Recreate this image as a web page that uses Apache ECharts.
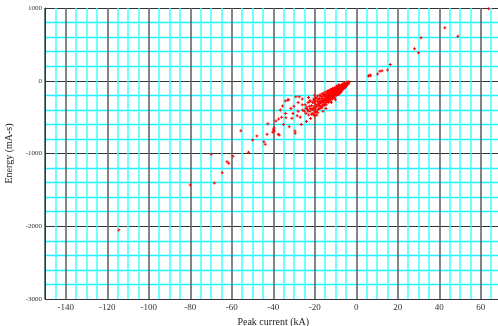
<!DOCTYPE html>
<html>
<head>
<meta charset="utf-8">
<script src="https://cdn.jsdelivr.net/npm/echarts@6/dist/echarts.min.js"></script>
<style>html,body{margin:0;padding:0;background:#fff;}#c{width:498px;height:326px;}</style>
</head>
<body>
<div id="c"></div>
<script>
// Peak current (kA), Energy (mA-s) pairs
const denseBand = [
[-3.5,-20],[-3.7,-34],[-3.9,-15],[-4.0,-46],[-4.2,-28],[-4.3,-55],[-4.5,-38],[-4.6,-20],[-4.7,-66],[-4.9,-48],[-5.0,-30],[-5.0,-78],
[-5.2,-60],[-5.3,-92],[-5.4,-42],[-5.5,-75],[-5.7,-55],[-5.8,-100],[-5.9,-35],[-6.0,-82],[-6.1,-64],[-6.2,-110],[-6.3,-48],[-6.4,-92],
[-6.6,-72],[-6.7,-120],[-6.8,-58],[-6.9,-98],[-7.0,-140],[-7.1,-80],[-7.2,-110],[-7.3,-62],[-7.4,-130],[-7.5,-92],[-7.6,-150],[-7.7,-75],[-7.8,-118],[-7.9,-100],[-8.0,-140],
[-8.1,-82],[-8.2,-160],[-8.3,-120],[-8.4,-98],[-8.5,-145],[-8.6,-70],[-8.7,-175],[-8.8,-130],[-8.9,-108],[-9.0,-155],[-9.1,-90],[-9.2,-185],[-9.3,-125],[-9.4,-142],[-9.5,-100],[-9.6,-168],[-9.7,-120],[-9.8,-195],[-9.9,-150],[-10.0,-105],
[-10.1,-172],[-10.2,-130],[-10.3,-205],[-10.4,-150],[-10.5,-112],[-10.6,-190],[-10.7,-160],[-10.8,-225],[-10.9,-138],[-11.0,-180],[-11.1,-120],[-11.2,-210],[-11.3,-165],[-11.4,-240],[-11.5,-145],[-11.6,-195],[-11.7,-175],[-11.8,-130],[-11.9,-228],[-12.0,-160],
[-12.1,-200],[-12.2,-140],[-12.3,-250],[-12.4,-185],[-12.5,-220],[-12.6,-155],[-12.7,-265],[-12.8,-205],[-12.9,-172],[-13.0,-240],[-13.1,-190],[-13.2,-150],[-13.3,-275],[-13.4,-215],[-13.5,-180],[-13.6,-255],[-13.7,-230],[-13.8,-165],[-13.9,-290],[-14.0,-205],
[-14.1,-245],[-14.2,-180],[-14.3,-270],[-14.5,-220],[-14.6,-300],[-14.7,-195],[-14.9,-260],[-15.0,-235],[-15.1,-320],[-15.3,-210],[-15.4,-280],[-15.6,-250],[-15.7,-330],[-15.8,-190],[-16.0,-300],
[-16.1,-265],[-16.3,-220],[-16.4,-340],[-16.6,-290],[-16.7,-240],[-16.9,-360],[-17.0,-310],[-17.2,-210],[-17.3,-275],[-17.5,-350],[-17.7,-300],[-17.8,-245],[-18.0,-380],
[-18.2,-320],[-18.3,-260],[-18.5,-400],[-18.7,-290],[-18.9,-350],[-19.1,-240],[-19.2,-420],[-19.4,-330],[-19.6,-280],[-19.8,-380],[-20.0,-310],
[-20.2,-430],[-20.4,-270],[-20.5,-360],[-20.8,-400],[-21.0,-300],[-21.2,-450],[-21.5,-340],[-21.7,-390],[-22.0,-280],
[-22.3,-420],[-22.6,-350],[-22.9,-470],[-23.2,-300],[-23.5,-400],[-23.8,-360],[-24.2,-450],[-24.6,-330],[-25.0,-420],
[-5.6,-88],[-6.5,-105],[-7.3,-135],[-8.4,-60],[-9.0,-115],[-10.0,-175],[-10.8,-150],[-11.5,-205],[-12.5,-175],[-13.0,-210],[-6.0,-50],[-7.0,-70],[-8.0,-90],[-9.4,-160],[-10.6,-130]
];

const bandUpperEdge = [
[-6.5,-45],[-8.5,-60],[-10.5,-95],[-12.5,-120],[-14.5,-150],[-16.5,-180],[-18.5,-210],[-20.5,-250],[-22.5,-280],
[-9.5,-75],[-11.5,-105],[-13.5,-135],[-15.5,-165],[-17.5,-195],[-19.5,-230]
];

const bandLowerEdge = [
[-7.5,-165],[-9.5,-200],[-11.5,-250],[-13.5,-300],[-15.5,-340],[-17.5,-380],[-19.5,-430],[-21.5,-460],
[-8.5,-190],[-10.5,-235],[-12.5,-280],[-14.5,-330],[-16.5,-370],[-18.5,-440],[-20.5,-470],
[-15.2,-260],[-16.2,-280],[-17.2,-300],[-18.2,-330],[-19.2,-350],[-20.2,-380],[-21.2,-390],[-22.2,-380],[-23.2,-420],[-24.2,-380]
];

const scatterNegative = [
[-27.0,-500],[-26.0,-250],[-27.5,-220],[-28.0,-420],[-29.1,-220],[-29.5,-691],[-29.4,-723],[-30.0,-350],[-31.0,-517],[-32.3,-632],
[-32.6,-261],[-33.1,-265],[-33.9,-508],[-34.2,-279],[-35.5,-348],[-36.6,-403],[-37.4,-526],[-37.1,-746],[-37.6,-737],[-38.7,-554],
[-39.5,-691],[-39.6,-650],[-39.9,-668],[-40.3,-705],[-42.6,-591],[-43.0,-736],[-43.9,-874],[-44.5,-838],[-47.9,-760],[-49.9,-815],
[-55.6,-687],[-51.9,-984],[-59.4,-1039],[-61.5,-1135],[-62.3,-1113],[-64.6,-1264],[-68.4,-1405],[-69.9,-1011],[-80.0,-1433],[-114.4,-2051],
[-25.8,-403],[-17.8,-334],[-14.6,-380],[-16.0,-420],[-20.0,-480],[-24.0,-560],[-26.5,-600],[-28.5,-480],[-30.5,-450],[-31.5,-380],
[-34.0,-450],[-35.0,-600],[-36.0,-500],[-22.0,-520],[-19.0,-470],[-12.0,-300],[-10.0,-260],[-23.0,-230],[-20.0,-200],[-26.0,-330],[-28.0,-300]
];

const scatterPositive = [
[5.9,65],[6.6,78],[6.9,70],[10.3,92],[11.4,129],[12.4,137],[15.1,147],[16.4,225],
[28.1,440],[30.0,385],[31.2,591],[42.7,728],[49.0,610],[63.8,990]
];

const xTickLabels = ['-140','-120','-100','-80','-60','-40','-20','0','20','40','60'];
const yTickLabels = ['1000','0','-1000','-2000','-3000'];

const chart = echarts.init(document.getElementById('c'), null, {renderer: 'canvas'});
const serif = 'Liberation Serif, Times New Roman, serif';
const X_MIN = -150, X_MAX = 70, Y_MIN = -3000, Y_MAX = 1000;
const CX = '#40ffff', CY = '#1ef0ff', NONE = 'rgba(0,0,0,0)';

const option = {
  animation: false,
  backgroundColor: '#ffffff',
  grid: {left: 45, top: 8, width: 456.5, height: 291, containLabel: false, outerBoundsMode: 'none'},
  xAxis: [
    {
      type: 'value', position: 'bottom', min: X_MIN, max: X_MAX, interval: 5,
      axisLine: {show: false}, axisTick: {show: false}, axisLabel: {show: false},
      splitLine: {show: true, lineStyle: {color: [CX, CX, NONE, CX], width: 1.5}}
    },
    {
      type: 'value', position: 'bottom', min: X_MIN, max: X_MAX, minInterval: 20, maxInterval: 20, splitNumber: 11,
      name: 'Peak current (kA)', nameLocation: 'middle', nameGap: 17,
      nameTextStyle: {fontFamily: serif, fontSize: 10, color: '#222'},
      axisLine: {show: true, onZero: false, lineStyle: {color: '#333', width: 1}},
      axisTick: {show: false},
      axisLabel: {
        show: true, fontFamily: serif, fontSize: 9, color: '#333', margin: 4,
        showMinLabel: false, showMaxLabel: false,
        formatter: function (v) { const s = String(v); return xTickLabels.indexOf(s) >= 0 ? s : ''; }
      },
      splitLine: {show: true, lineStyle: {color: '#666', width: 1.6}}
    }
  ],
  yAxis: [
    {
      type: 'value', position: 'left', min: Y_MIN, max: Y_MAX, interval: 200,
      axisLine: {show: false}, axisTick: {show: false}, axisLabel: {show: false},
      splitLine: {show: true, lineStyle: {color: [NONE, CY, CY, CY, CY], width: 1.3}}
    },
    {
      type: 'value', position: 'left', min: Y_MIN, max: Y_MAX, interval: 1000,
      name: 'Energy (mA-s)', nameLocation: 'middle', nameGap: 25, nameRotate: 90,
      nameTextStyle: {fontFamily: serif, fontSize: 10, color: '#222'},
      axisLine: {show: true, onZero: false, lineStyle: {color: '#333', width: 1}},
      axisTick: {show: false},
      axisLabel: {
        show: true, fontFamily: serif, fontSize: 7, color: '#333', margin: 3,
        formatter: function (v) { const s = String(v); return yTickLabels.indexOf(s) >= 0 ? s : ''; }
      },
      splitLine: {show: true, lineStyle: {color: '#333', width: 1}}
    }
  ],
  series: [
    {
      type: 'scatter', xAxisIndex: 1, yAxisIndex: 1, z: 5,
      symbol: 'path://M1,0H2V1H3V2H2V3H1V2H0V1H1Z', symbolSize: 3,
      itemStyle: {color: '#ff0000', opacity: 1},
      data: denseBand.concat(bandUpperEdge, bandLowerEdge, scatterNegative, scatterPositive)
    }
  ]
};
chart.setOption(option);
</script>
</body>
</html>
